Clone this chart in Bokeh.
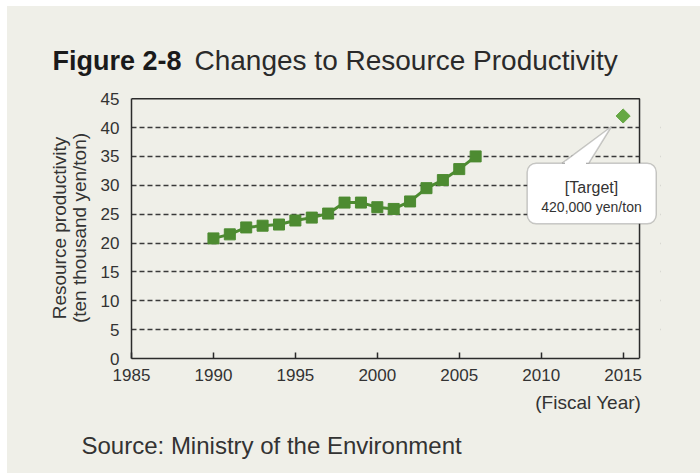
from bokeh.plotting import figure
from bokeh.models import (Label, BoxAnnotation, PolyAnnotation, FixedTicker,
                          Range1d, LinearAxis, Spacer)
from bokeh.layouts import row, column
from bokeh.embed import file_html
from bokeh.resources import INLINE

# ---- data ----
years = [1990, 1991, 1992, 1993, 1994, 1995, 1996, 1997, 1998, 1999,
         2000, 2001, 2002, 2003, 2004, 2005, 2006]
productivity = [20.8, 21.5, 22.7, 23.0, 23.2, 23.9, 24.4, 25.1, 27.0, 27.0,
                26.2, 25.9, 27.2, 29.5, 30.9, 32.8, 35.0]
target_year = [2015]
target_value = [42]
x_ticks = [1985, 1990, 1995, 2000, 2005, 2010, 2015]
y_ticks = [0, 5, 10, 15, 20, 25, 30, 35, 40, 45]
grid_ticks = [5, 10, 15, 20, 25, 30, 35, 40]
x_first, x_last = 1985, 2016
y_first, y_last = 0, 45

title_bold = "Figure 2-8"
title_rest = "Changes to Resource Productivity"
ylabel_1 = "Resource productivity"
ylabel_2 = "(ten thousand yen/ton)"
xlabel = "(Fiscal Year)"
source_text = "Source: Ministry of the Environment"
callout_1 = "[Target]"
callout_2 = "420,000 yen/ton"

BG = "#efefe8"
DARK = "#2b2b2b"
TXT = "#333333"
GREEN = "#4d8b31"
LGREEN = "#66a844"
FONT = "Liberation Sans"
W = 693


def text_fig(h):
    f = figure(width=W, height=h, title=None, x_axis_type=None, y_axis_type=None,
               x_range=Range1d(0, W), y_range=Range1d(0, h),
               output_backend="svg", toolbar_location=None,
               min_border_left=0, min_border_right=0,
               min_border_top=0, min_border_bottom=0)
    f.background_fill_color = BG
    f.border_fill_color = BG
    f.outline_line_color = None
    f.grid.visible = False
    return f


def add_label(fig, x, y, text, size, style="normal", align="left",
              baseline="alphabetic", angle=0, color=TXT):
    lab = Label(x=x, y=y, x_units="screen", y_units="screen", text=text,
                text_font=FONT, text_font_size=size, text_font_style=style,
                text_color=color, text_align=align, text_baseline=baseline,
                angle=angle, level="overlay")
    fig.add_layout(lab)


# ---------- title strip ----------
top = text_fig(70)
add_label(top, 45, 16, title_bold, "27px", style="bold", color="#1a1a1a")
add_label(top, 187, 16, title_rest, "28px", color="#2a2a2a")

# ---------- main chart ----------
p = figure(width=W, height=316, title=None,
           x_range=Range1d(1985, 2017.28), y_range=Range1d(0, 45.2),
           output_backend="svg", toolbar_location=None,
           min_border_left=124, min_border_right=40,
           min_border_top=21, min_border_bottom=34)
p.background_fill_color = BG
p.border_fill_color = BG
p.outline_line_color = None

p.xaxis.ticker = FixedTicker(ticks=x_ticks)
p.yaxis.ticker = FixedTicker(ticks=y_ticks)
p.xaxis.bounds = (x_first, x_last)
p.yaxis.bounds = (y_first, y_last)
for ax in (p.xaxis, p.yaxis):
    ax.axis_line_color = DARK
    ax.axis_line_width = 1.5
    ax.major_label_text_font = FONT
    ax.major_label_text_font_size = "17px"
    ax.major_label_text_color = TXT
    ax.minor_tick_line_color = None
p.xaxis.major_tick_in = 6
p.xaxis.major_tick_out = 0
p.xaxis.major_tick_line_color = DARK
p.xaxis.major_tick_line_width = 1.5
p.xaxis.major_label_standoff = 10
p.yaxis.major_tick_line_color = None
p.yaxis.major_label_standoff = 6
p.yaxis.axis_label = ylabel_2
p.yaxis.axis_label_text_font = FONT
p.yaxis.axis_label_text_font_size = "19px"
p.yaxis.axis_label_text_font_style = "normal"
p.yaxis.axis_label_text_color = TXT
p.yaxis.axis_label_standoff = 8

outer = LinearAxis(ticker=FixedTicker(ticks=[]), axis_label=ylabel_1,
                   axis_label_text_font=FONT, axis_label_text_font_size="19px",
                   axis_label_text_font_style="normal",
                   axis_label_text_color=TXT, axis_label_standoff=-4,
                   axis_line_color=None, major_tick_line_color=None,
                   minor_tick_line_color=None, bounds=(y_first, y_last))
p.add_layout(outer, "left")

p.xgrid.grid_line_color = None
p.ygrid.ticker = FixedTicker(ticks=grid_ticks)
p.ygrid.grid_line_color = "#3a3a3a"
p.ygrid.grid_line_width = 1.5
p.ygrid.grid_line_dash = "5 3"

# mask the area right of the plot box, then draw the box's top/right edges
p.quad(left=[x_last], right=[x_last + 5], bottom=[y_first - 5], top=[y_last + 5],
       fill_color=BG, line_color=None)
p.line([x_first, x_last, x_last], [y_last, y_last, y_first],
       line_color=DARK, line_width=1.5)

# data
p.line(years, productivity, line_color=GREEN, line_width=3)
p.scatter(years, productivity, marker="square", size=11,
          fill_color=GREEN, line_color=GREEN)
p.scatter(target_year, target_value, marker="square", angle=0.785, size=10,
          fill_color=LGREEN, line_color=LGREEN)

# callout (screen units, relative to the frame's bottom-left corner)
box = BoxAnnotation(left=395.7, right=524.7, bottom=134.7, top=195.3,
                    left_units="screen", right_units="screen",
                    bottom_units="screen", top_units="screen",
                    fill_color="white", fill_alpha=1.0,
                    line_color="#555555", line_width=1.5,
                    border_radius=9, level="overlay")
p.add_layout(box)
tail = PolyAnnotation(xs=[430.7, 480.0, 457.3], ys=[195.3, 232.0, 195.3],
                      xs_units="screen", ys_units="screen",
                      fill_color="white", fill_alpha=1.0,
                      line_color="#555555", line_width=1.5, level="overlay")
p.add_layout(tail)
cover = PolyAnnotation(xs=[433.5, 454.5, 454.5, 433.5],
                       ys=[197.0, 197.0, 192.0, 192.0],
                       xs_units="screen", ys_units="screen",
                       fill_color="white", fill_alpha=1.0,
                       line_color=None, level="overlay")
p.add_layout(cover)
add_label(p, 460, 171.3, callout_1, "16px", align="center", baseline="middle")
add_label(p, 460, 152.0, callout_2, "14px", align="center", baseline="middle")

# ---------- bottom strip ----------
bot = text_fig(81)
add_label(bot, 633.7, 71.3, xlabel, "19px", align="right", baseline="middle")
add_label(bot, 74, 28, source_text, "24px")

# keep each plot's frame independent inside the column
for f in (top, p, bot):
    try:
        f.frame_align = False
    except Exception:
        pass

inner = column(top, p, bot)
try:
    inner.styles = {"background-color": BG}
except Exception:
    pass

layout = row(Spacer(width=7, height=473),
             column(Spacer(width=W, height=6), inner))

open("out.html", "w").write(file_html(layout, INLINE))
